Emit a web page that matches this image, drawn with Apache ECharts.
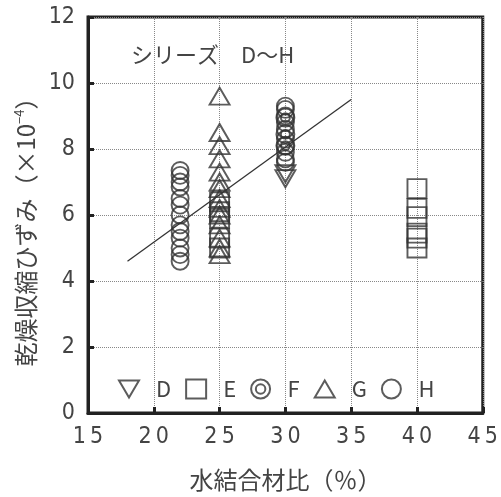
<!DOCTYPE html>
<html>
<head>
<meta charset="utf-8">
<script src="https://cdn.jsdelivr.net/npm/echarts@6/dist/echarts.min.js"></script>
<style>html,body{margin:0;padding:0;background:#fff;}#c{width:501px;height:497px;}</style>
</head>
<body>
<div id="c"></div>
<script>
// ---- data ----
const xTicks = [15, 20, 25, 30, 35, 40, 45];
const yTicks = [0, 2, 4, 6, 8, 10, 12];
const seriesNames = ['D', 'E', 'F', 'G', 'H'];
const D_x30 = [7.1, 7.25];
const E_x25 = [6.4, 6.1, 5.9, 5.3, 5.0];
const E_x40 = [6.8, 6.2, 5.95, 5.45, 5.3, 5.0];
const F_x30 = [8.95, 8.45, 8.1];
const G_x25 = [9.6, 8.5, 8.1, 7.7, 7.3, 7.0, 6.8, 6.5, 6.2, 6.0, 5.7, 5.3, 5.0, 4.8];
const H_x22 = [7.35, 7.2, 7.0, 6.85, 6.5, 6.3, 6.0, 5.7, 5.5, 5.3, 5.0, 4.8, 4.6];
const H_x30 = [9.3, 9.2, 9.0, 8.8, 8.6, 8.3, 8.1, 7.9, 7.7, 7.6];
const trendX = [18, 35];
const trendY = [4.6, 9.5];

const pts = (x, ys) => ys.map(y => [x, y]);
const ink = '#333';
const narrow = '"Liberation Sans Narrow","DejaVu Sans Condensed",sans-serif';
const jp = '"Noto Sans CJK JP","Noto Sans",sans-serif';
const mk = {color: 'rgba(0,0,0,0)', borderColor: ink, borderWidth: 1.9};

const chart = echarts.init(document.getElementById('c'));
chart.setOption({
  animation: false,
  backgroundColor: '#fff',
  grid: {left: 88, right: 13, top: 17, bottom: 81, show: true, borderColor: '#222', borderWidth: 3},
  legend: {
    data: seriesNames,
    left: 113, top: 373,
    itemWidth: 20, itemHeight: 19, itemGap: 14,
    textStyle: {fontFamily: jp, fontSize: 22, color: '#444', padding: [0, 0, 0, 12]},
    selectedMode: false
  },
  graphic: [{
    type: 'text', left: 131, top: 44,
    style: {text: 'シリーズ　D～H', font: '22px "Noto Sans CJK JP"', fill: '#444'}
  }],
  xAxis: {
    type: 'value', min: xTicks[0], max: xTicks[xTicks.length - 1], interval: 5,
    name: '水結合材比（％）', nameLocation: 'middle', nameGap: 55,
    nameTextStyle: {fontFamily: jp, fontSize: 24, color: '#444'},
    axisLine: {show: true, lineStyle: {color: '#222', width: 3}},
    axisTick: {show: true, inside: true, length: 6, lineStyle: {color: '#222', width: 3}},
    axisLabel: {margin: 13, fontFamily: narrow, fontSize: 23, color: '#444',
      formatter: v => String(v).split('').join('\u2009')},
    splitLine: {show: true, lineStyle: {color: '#888', type: 'dotted', width: 1}}
  },
  yAxis: {
    type: 'value', min: yTicks[0], max: yTicks[yTicks.length - 1], interval: 2,
    name: '乾燥収縮ひずみ（×10{s|−4}）', nameLocation: 'middle', nameGap: 50,
    nameTextStyle: {fontFamily: jp, fontSize: 24, color: '#444', padding: [0, 22, 0, 0],
      rich: {s: {fontFamily: jp, fontSize: 13, color: '#444', padding: [0, 0, 12, 0]}}},
    axisLine: {show: true, lineStyle: {color: '#222', width: 3}},
    axisTick: {show: true, inside: true, length: 6, lineStyle: {color: '#222', width: 3}},
    axisLabel: {margin: 13, fontFamily: narrow, fontSize: 23, color: '#444'},
    splitLine: {show: true, lineStyle: {color: '#888', type: 'dotted', width: 1}}
  },
  series: [
    {name: 'D', type: 'scatter', symbol: 'path://M0,0L20,0L10,17Z', symbolSize: [20, 17],
      itemStyle: mk, data: pts(30, D_x30)},
    {name: 'E', type: 'scatter', symbol: 'rect', symbolSize: 19,
      itemStyle: mk, data: pts(25, E_x25).concat(pts(40, E_x40))},
    {name: 'F', type: 'scatter',
      symbol: 'path://M10,0A10,10,0,1,1,10,20A10,10,0,1,1,10,0ZM10,5A5,5,0,1,1,10,15A5,5,0,1,1,10,5Z',
      symbolSize: 18, itemStyle: mk, data: pts(30, F_x30)},
    {name: 'G', type: 'scatter', symbol: 'path://M10,0L20,17L0,17Z', symbolSize: [20, 17],
      itemStyle: mk, data: pts(25, G_x25)},
    {name: 'H', type: 'scatter', symbol: 'circle', symbolSize: 17,
      itemStyle: mk, data: pts(22, H_x22).concat(pts(30, H_x30))},
    {name: 'trend', type: 'line', showSymbol: false, symbol: 'none',
      lineStyle: {color: '#333', width: 1.3},
      data: trendX.map((x, i) => [x, trendY[i]])}
  ]
});
</script>
</body>
</html>
